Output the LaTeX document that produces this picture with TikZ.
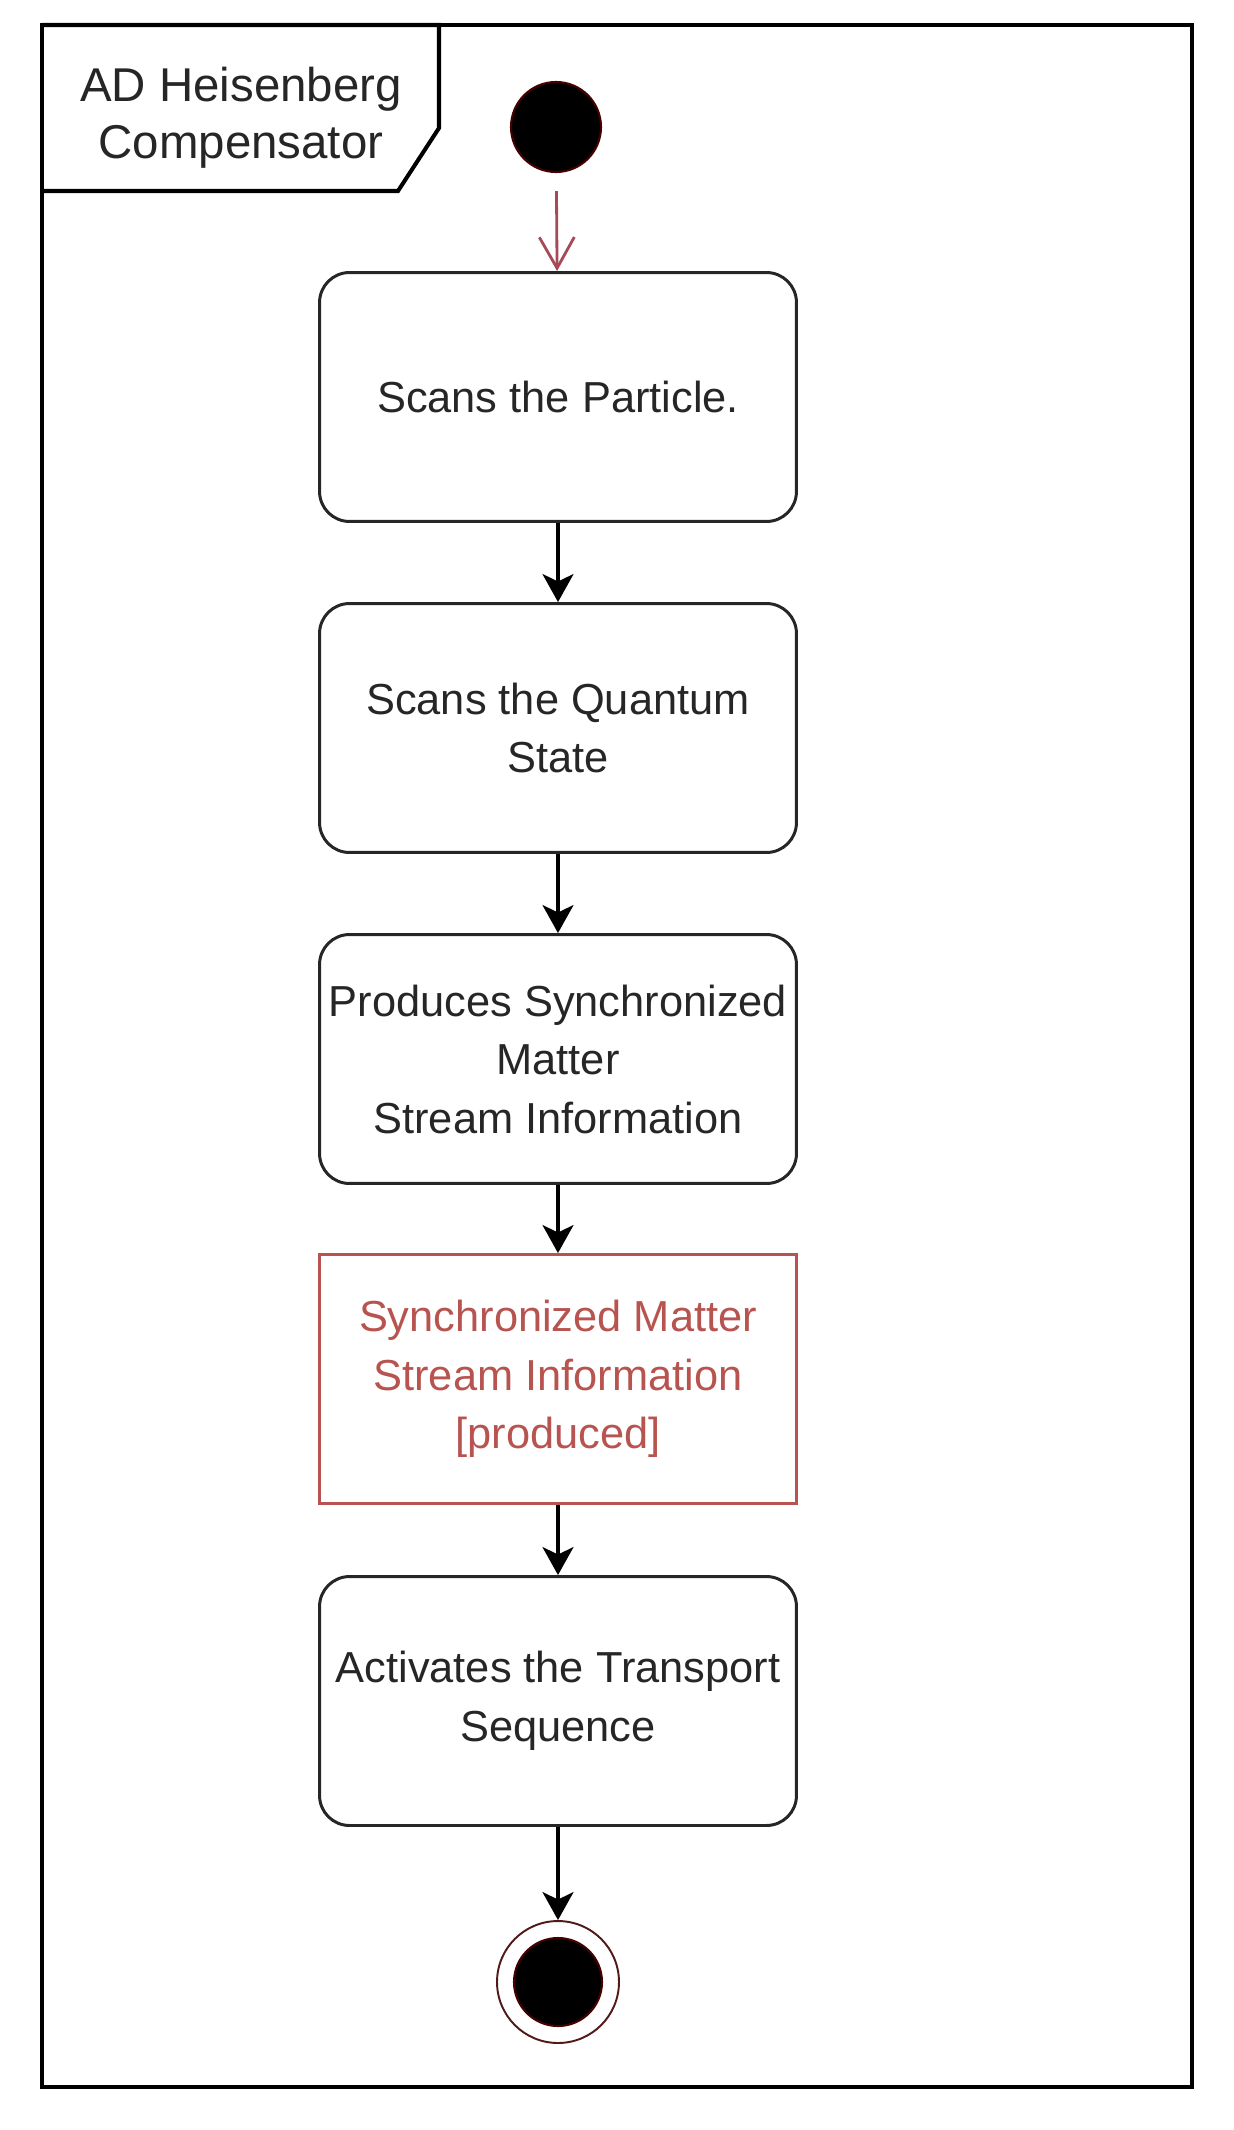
\documentclass[tikz,border=0pt]{standalone}
\usepackage{fontspec}
\setmainfont{Liberation Sans}
\usepackage{tikz}
\usetikzlibrary{arrows.meta}

\definecolor{objred}{RGB}{184,84,80}
\definecolor{initred}{RGB}{165,75,88}
\definecolor{inkgray}{RGB}{38,38,38}
\definecolor{dotred}{RGB}{70,0,0}

\begin{document}
\begin{tikzpicture}[x=0.02cm, y=-0.02cm,
    action/.style={draw=inkgray, line width=1.7pt, rounded corners=0.6cm,
        minimum width=9.54cm, minimum height=4.98cm, inner sep=2pt,
        align=center, text=inkgray, font=\fontsize{24.7}{33.3}\selectfont},
    objectbox/.style={action, rounded corners=0pt, draw=objred, text=objred},
    flow/.style={line width=1.9pt, draw=black,
        -{Stealth[length=0.56cm, width=0.62cm, inset=0.15cm]}},
    frameline/.style={line width=2.3pt, draw=black}]
    \useasboundingbox (0,0) rectangle (1234,2130);

    % frame and title tab
    \draw[frameline] (42,25) rectangle (1192,2087);
    \draw[frameline] (42,25) -| (439,128) -- (398,191) -- (42,191);
    \node[align=center, text=inkgray, font=\fontsize{27}{32.4}\selectfont] (title) at (241,118) {AD Heisenberg\\Compensator};

    % states
    \node[circle, fill=black, draw=dotred, line width=1.2pt, minimum size=1.8cm] (start) at (556,127) {};
    \node[action] (scan) at (558,397) {Scans the Particle.};
    \node[action] (quantum) at (558,728) {Scans the Quantum\\State};
    \node[action] (produce) at (558,1059) {Produces Synchronized\\Matter\\Stream Information};
    \node[objectbox] (info) at (558,1379) {Synchronized Matter\\Stream Information\\{[}produced{]}};
    \node[action] (transport) at (558,1701) {Activates the Transport\\Sequence};
    \node[circle, draw=dotred!80!gray, line width=1.1pt, minimum size=2.44cm] (finish) at (558,1982) {};
    \node[circle, fill=black, draw=dotred, line width=1.2pt, minimum size=1.76cm] (finishdot) at (finish) {};

    % control flow
    \draw[line width=1.6pt, draw=initred, shorten <=0.36cm,
        -{Straight Barb[length=0.62cm, width=0.7cm, line width=1.6pt]}] (start) -- (scan);
    \draw[flow] (scan) -- (quantum);
    \draw[flow] (quantum) -- (produce);
    \draw[flow] (produce) -- (info);
    \draw[flow] (info) -- (transport);
    \draw[flow] (transport) -- (finish);
\end{tikzpicture}
\end{document}
